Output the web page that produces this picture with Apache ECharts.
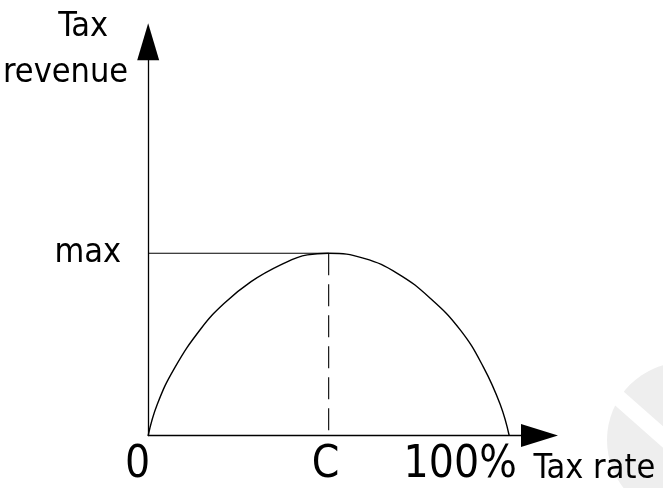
<!DOCTYPE html>
<html>
<head>
<meta charset="utf-8">
<script src="https://cdn.jsdelivr.net/npm/echarts@6/dist/echarts.min.js"></script>
<style>
html, body { margin: 0; padding: 0; background: #fff; }
#main { width: 663px; height: 488px; }
</style>
</head>
<body>
<div id="main"></div>
<script>
// Laffer curve, values (x: tax rate 0..100, y: revenue 0..100 = max)
var taxRate = [0, 2.5, 7.3, 14.6, 21.0, 28.5, 36.7, 44.1, 50, 59.8, 69.0, 78.2, 86.5, 92.9, 97.5, 100];
var revenue = [0, 17.0, 37.0, 58.6, 72.4, 84.4, 93.6, 99.1, 100, 97.2, 89.0, 75.2, 57.8, 37.4, 17.1, 0];
var xTicks = [0, 50, 100];
var xTickLabels = ['0', 'C', '100%'];
var yTicks = [100];
var yTickLabels = ['max'];
var peakX = 50, peakY = 100;

var font = "'DejaVu Sans Condensed', 'Liberation Sans Narrow', 'DejaVu Sans', sans-serif";

var curve = [];
for (i = 0; i < taxRate.length; i++) {
    curve.push([taxRate[i], revenue[i]]);
}

var dom = document.getElementById('main');
var myChart = echarts.init(dom);
var option = {
    animation: false,
    backgroundColor: '#fff',
    grid: { left: 147, right: 123.5, top: 41.7, bottom: 52.5 },
    graphic: [
        // faint watermark in the corner
        { type: 'circle', shape: { cx: 685, cy: 440, r: 78 }, style: { fill: '#eeeeee' }, z: -10, silent: true },
        { type: 'line', shape: { x1: 612, y1: 392, x2: 680, y2: 452 }, style: { stroke: '#fff', lineWidth: 16 }, z: -9, silent: true }
    ],
    xAxis: {
        type: 'value',
        min: 0,
        max: 108.4,
        splitLine: { show: false },
        axisTick: { show: false },
        axisLine: {
            onZero: false,
            symbol: ['none', 'triangle'],
            symbolSize: [23, 37],
            lineStyle: { color: '#000', width: 1.3 }
        },
        axisLabel: {
            customValues: xTicks,
            margin: 8,
            color: '#000',
            fontFamily: font,
            fontSize: 44,
            formatter: function (v) {
                var k = xTicks.indexOf(v);
                return ['{a|', '{b|', '{c|'][k] + xTickLabels[k] + '}';
            },
            rich: {
                a: { fontFamily: font, fontSize: 44, color: '#000', padding: [0, 21, 0, 0] },
                b: { fontFamily: font, fontSize: 44, color: '#000', padding: [0, 6, 0, 0] },
                c: { fontFamily: font, fontSize: 44, color: '#000', padding: [0, 98, 0, 0] }
            }
        },
        name: 'Tax rate',
        nameLocation: 'end',
        nameGap: -6,
        nameTextStyle: {
            color: '#000',
            fontFamily: font,
            fontSize: 34,
            align: 'left',
            verticalAlign: 'top',
            padding: [17, 0, 0, 0]
        }
    },
    yAxis: {
        type: 'value',
        min: 0,
        max: 216.1,
        splitLine: { show: false },
        axisTick: { show: false },
        axisLine: {
            onZero: false,
            symbol: ['none', 'triangle'],
            symbolSize: [22, 37],
            lineStyle: { color: '#000', width: 1.3 }
        },
        axisLabel: {
            customValues: yTicks,
            margin: 27,
            color: '#000',
            fontFamily: font,
            fontSize: 34,
            formatter: function (v) {
                return yTickLabels[yTicks.indexOf(v)];
            }
        },
        name: '{t|Tax}\n{r|revenue}',
        nameLocation: 'end',
        nameGap: -54,
        nameTextStyle: {
            align: 'right',
            verticalAlign: 'bottom',
            padding: [0, 20, 0, 0],
            rich: {
                t: { fontFamily: font, fontSize: 34, color: '#000', padding: [0, 20, 0, 0], lineHeight: 46 },
                r: { fontFamily: font, fontSize: 34, color: '#000', lineHeight: 46 }
            }
        }
    },
    series: [
        {
            name: 'revenue',
            type: 'line',
            data: curve,
            smooth: 0.45,
            showSymbol: false,
            lineStyle: { color: '#000', width: 1.4 },
            z: 3
        },
        {
            name: 'max',
            type: 'line',
            data: [[0, peakY], [peakX, peakY]],
            showSymbol: false,
            lineStyle: { color: '#000', width: 1.1 }
        },
        {
            name: 'C',
            type: 'line',
            data: [[peakX, peakY], [peakX, 0]],
            showSymbol: false,
            lineStyle: { color: '#000', width: 1.1, type: [22, 9] }
        }
    ]
};
if (option && typeof option === 'object') {
    myChart.setOption(option, true);
}
</script>
</body>
</html>
